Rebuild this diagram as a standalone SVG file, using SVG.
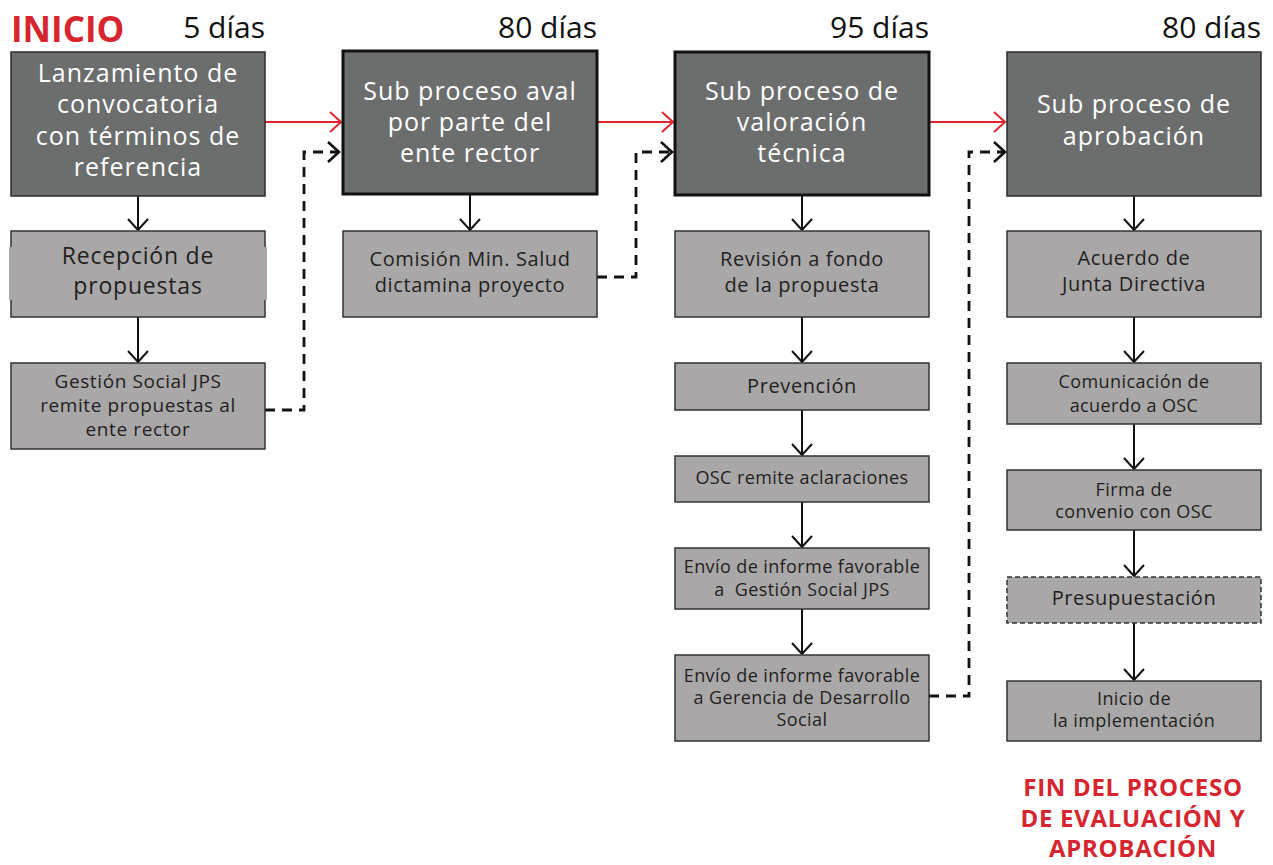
<svg xmlns="http://www.w3.org/2000/svg" width="1273" height="865" viewBox="0 0 1273 865">
<style>
.dk{fill:#6c6e6e;stroke:#2b2b2b;stroke-width:1.5}
.dkb{fill:#6c6e6e;stroke:#111;stroke-width:3}
.lt{fill:#a9a7a8;stroke:#333;stroke-width:1.5}
.ltd{fill:#a9a7a8;stroke:#333;stroke-width:1.5;stroke-dasharray:5,3}
text{font-family:"Open Sans","Liberation Sans",sans-serif;text-anchor:middle}
.tw{fill:#ffffff;font-size:25px;letter-spacing:1px}
.tb{fill:#231f20}
.s22{font-size:23px;letter-spacing:0.8px}
.s19{font-size:20px;letter-spacing:0.6px}
.s18{font-size:19px;letter-spacing:0.6px}
.s17{font-size:18px;letter-spacing:0.4px}
.hd{fill:#111;font-size:30px;text-anchor:end}
.red{fill:#d7252f;font-weight:bold}
.fin{font-size:24px;letter-spacing:0.7px}
.c{fill:none;stroke:#111;stroke-width:2}
.cr{fill:none;stroke:#e2262f;stroke-width:2}
.cd{fill:none;stroke:#111;stroke-width:2.8;stroke-dasharray:10,7}
</style>
<defs>
<marker id="ab" markerUnits="userSpaceOnUse" markerWidth="16" markerHeight="24" refX="13" refY="12" orient="auto">
<path d="M2,2 L13,12 L2,22" fill="none" stroke="#111" stroke-width="2"/>
</marker>
<marker id="ar" markerUnits="userSpaceOnUse" markerWidth="16" markerHeight="24" refX="13" refY="12" orient="auto">
<path d="M2,2 L13,12 L2,22" fill="none" stroke="#e2262f" stroke-width="2"/>
</marker>
<marker id="ad" markerUnits="userSpaceOnUse" markerWidth="16" markerHeight="24" refX="13" refY="12" orient="auto">
<path d="M2,2 L13,12 L2,22" fill="none" stroke="#111" stroke-width="2.6"/>
</marker>
</defs>

<g id="headers">
<text x="11" y="42" class="red" style="font-size:35px;text-anchor:start">INICIO</text>
<text x="265" y="38" class="hd">5 días</text>
<text x="597" y="38" class="hd">80 días</text>
<text x="929" y="38" class="hd">95 días</text>
<text x="1261" y="38" class="hd">80 días</text>
</g>

<g id="connectors">
<path class="cr" d="M265,122 H341" marker-end="url(#ar)"/>
<path class="cr" d="M597,122 H673" marker-end="url(#ar)"/>
<path class="cr" d="M929,122 H1005" marker-end="url(#ar)"/>
<path class="cd" d="M265,410 H304 V152 H339" marker-end="url(#ad)"/>
<path class="cd" d="M597,277 H636 V152 H672" marker-end="url(#ad)"/>
<path class="cd" d="M929,696 H969 V152 H1005" marker-end="url(#ad)"/>
<path class="c" d="M138,196 V230" marker-end="url(#ab)"/>
<path class="c" d="M138,317 V362" marker-end="url(#ab)"/>
<path class="c" d="M470,195 V230" marker-end="url(#ab)"/>
<path class="c" d="M802,196 V230" marker-end="url(#ab)"/>
<path class="c" d="M802,317 V362" marker-end="url(#ab)"/>
<path class="c" d="M802,410 V455" marker-end="url(#ab)"/>
<path class="c" d="M802,502 V547" marker-end="url(#ab)"/>
<path class="c" d="M802,609 V654" marker-end="url(#ab)"/>
<path class="c" d="M1134,196 V230" marker-end="url(#ab)"/>
<path class="c" d="M1134,317 V362" marker-end="url(#ab)"/>
<path class="c" d="M1134,424 V469" marker-end="url(#ab)"/>
<path class="c" d="M1134,530 V576" marker-end="url(#ab)"/>
<path class="c" d="M1134,623 V680" marker-end="url(#ab)"/>
</g>

<g id="n-lanzamiento">
<rect class="dk" x="11" y="52" width="254" height="144"/>
<text class="tw" x="138" y="82">Lanzamiento de</text>
<text class="tw" x="138" y="113">convocatoria</text>
<text class="tw" x="138" y="145">con términos de</text>
<text class="tw" x="138" y="176">referencia</text>
</g>
<g id="n-recepcion">
<rect class="lt" x="11" y="231" width="254" height="86"/>
<rect x="9" y="247" width="258" height="53" fill="#a9a7a8"/>
<text class="tb s22" x="138" y="264">Recepción de</text>
<text class="tb s22" x="138" y="294">propuestas</text>
</g>
<g id="n-gestion">
<rect class="lt" x="11" y="363" width="254" height="86"/>
<text class="tb s18" x="138" y="388">Gestión Social JPS</text>
<text class="tb s18" x="138" y="412">remite propuestas al</text>
<text class="tb s18" x="138" y="436">ente rector</text>
</g>

<g id="n-aval">
<rect class="dkb" x="343" y="51" width="254" height="143"/>
<text class="tw" x="470" y="100">Sub proceso aval</text>
<text class="tw" x="470" y="131">por parte del</text>
<text class="tw" x="470" y="162">ente rector</text>
</g>
<g id="n-comision">
<rect class="lt" x="343" y="231" width="254" height="86"/>
<text class="tb s19" x="470" y="266">Comisión Min. Salud</text>
<text class="tb s19" x="470" y="292">dictamina proyecto</text>
</g>

<g id="n-valoracion">
<rect class="dkb" x="675" y="52" width="254" height="143"/>
<text class="tw" x="802" y="100">Sub proceso de</text>
<text class="tw" x="802" y="131">valoración</text>
<text class="tw" x="802" y="162">técnica</text>
</g>
<g id="n-revision">
<rect class="lt" x="675" y="231" width="254" height="86"/>
<text class="tb s19" x="802" y="266">Revisión a fondo</text>
<text class="tb s19" x="802" y="292">de la propuesta</text>
</g>
<g id="n-prevencion">
<rect class="lt" x="675" y="363" width="254" height="47"/>
<text class="tb s19" x="802" y="393">Prevención</text>
</g>
<g id="n-osc">
<rect class="lt" x="675" y="456" width="254" height="46"/>
<text class="tb s17" x="802" y="484">OSC remite aclaraciones</text>
</g>
<g id="n-envio1">
<rect class="lt" x="675" y="548" width="254" height="61"/>
<text class="tb s17" x="802" y="573">Envío de informe favorable</text>
<text class="tb s17" x="802" y="596" xml:space="preserve">a  Gestión Social JPS</text>
</g>
<g id="n-envio2">
<rect class="lt" x="675" y="655" width="254" height="86"/>
<text class="tb s17" x="802" y="682">Envío de informe favorable</text>
<text class="tb s17" x="802" y="704">a Gerencia de Desarrollo</text>
<text class="tb s17" x="802" y="726">Social</text>
</g>

<g id="n-aprobacion">
<rect class="dk" x="1007" y="52" width="254" height="144"/>
<text class="tw" x="1134" y="113">Sub proceso de</text>
<text class="tw" x="1134" y="145">aprobación</text>
</g>
<g id="n-acuerdo">
<rect class="lt" x="1007" y="231" width="254" height="86"/>
<text class="tb s19" x="1134" y="265">Acuerdo de</text>
<text class="tb s19" x="1134" y="291">Junta Directiva</text>
</g>
<g id="n-comunicacion">
<rect class="lt" x="1007" y="363" width="254" height="61"/>
<text class="tb s17" x="1134" y="388">Comunicación de</text>
<text class="tb s17" x="1134" y="412">acuerdo a OSC</text>
</g>
<g id="n-firma">
<rect class="lt" x="1007" y="470" width="254" height="60"/>
<text class="tb s17" x="1134" y="496">Firma de</text>
<text class="tb s17" x="1134" y="518">convenio con OSC</text>
</g>
<g id="n-presupuestacion">
<rect class="ltd" x="1007" y="577" width="254" height="46"/>
<text class="tb s19" x="1134" y="605">Presupuestación</text>
</g>
<g id="n-inicio-impl">
<rect class="lt" x="1007" y="681" width="254" height="60"/>
<text class="tb s17" x="1134" y="705">Inicio de</text>
<text class="tb s17" x="1134" y="727">la implementación</text>
</g>

<g id="fin">
<text class="red fin" x="1133" y="796">FIN DEL PROCESO</text>
<text class="red fin" x="1133" y="827">DE EVALUACIÓN Y</text>
<text class="red fin" x="1133" y="857">APROBACIÓN</text>
</g>
</svg>
